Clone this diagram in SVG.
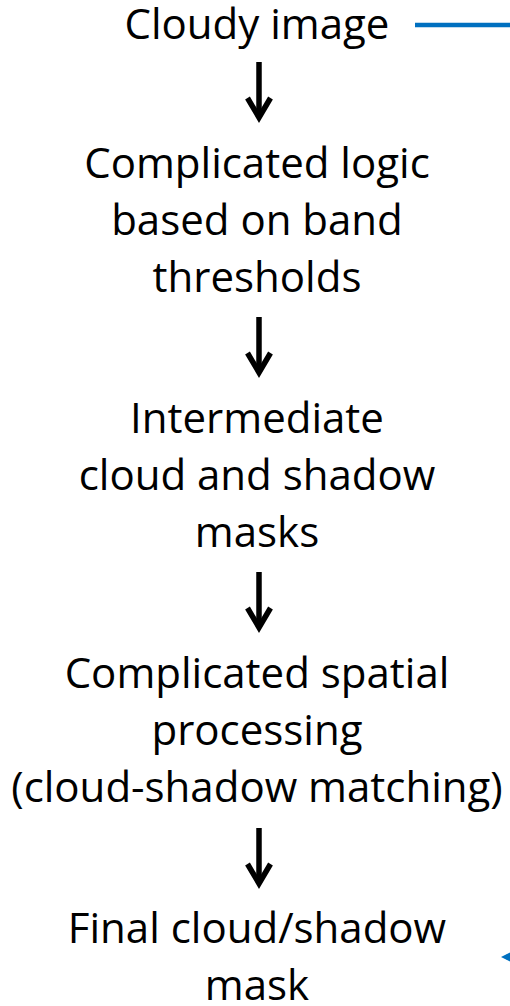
<svg xmlns="http://www.w3.org/2000/svg" xmlns:xlink="http://www.w3.org/1999/xlink" width="510" height="1006" viewBox="0 0 510 1006">
  <style>
    .t { font-family: "Open Sans", "Liberation Sans", sans-serif; font-size: 42px; fill: #000; text-anchor: middle; }
    .down { fill: none; stroke: #000; stroke-width: 5.5; }
    .blue { fill: none; stroke: #0070C0; stroke-width: 4.5; }
  </style>
  <defs>
    <marker id="bluehead" markerUnits="userSpaceOnUse" markerWidth="10" markerHeight="10" refX="5" refY="5" orient="auto" viewBox="0 0 10 10">
      <path d="M0,0 L10,5 L0,10 z" fill="#0070C0"/>
    </marker>
    <g id="arrow">
      <line x1="0" y1="0" x2="0" y2="54" class="down"/>
      <polyline points="-11.5,36 0,55.5 11.5,36" class="down" stroke-linejoin="miter"/>
    </g>
  </defs>
  <rect width="510" height="1006" fill="#fff"/>
  <g id="connectors">
    <use xlink:href="#arrow" href="#arrow" x="259" y="62"/>
    <use xlink:href="#arrow" href="#arrow" x="259" y="317"/>
    <use xlink:href="#arrow" href="#arrow" x="259" y="572"/>
    <use xlink:href="#arrow" href="#arrow" x="259" y="828"/>
    <path d="M415,25 H560 V957 H506" class="blue" marker-end="url(#bluehead)"/>
  </g>
  <g id="node-cloudy">
    <text class="t" x="257" y="39">Cloudy image</text>
  </g>
  <g id="node-logic">
    <text class="t" x="257" y="178">Complicated logic</text>
    <text class="t" x="257" y="235">based on band</text>
    <text class="t" x="257" y="292">thresholds</text>
  </g>
  <g id="node-intermediate">
    <text class="t" x="257" y="433">Intermediate</text>
    <text class="t" x="257" y="490">cloud and shadow</text>
    <text class="t" x="257" y="547">masks</text>
  </g>
  <g id="node-spatial">
    <text class="t" x="257" y="688">Complicated spatial</text>
    <text class="t" x="257" y="745">processing</text>
    <text class="t" x="257" y="802">(cloud-shadow matching)</text>
  </g>
  <g id="node-final">
    <text class="t" x="257" y="943">Final cloud/shadow</text>
    <text class="t" x="257" y="1000">mask</text>
  </g>
</svg>
